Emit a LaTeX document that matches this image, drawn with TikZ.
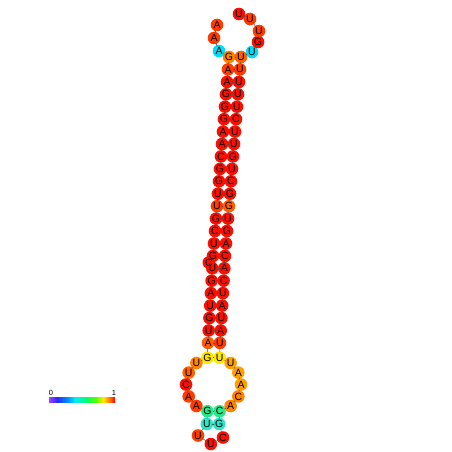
\documentclass[tikz,border=0pt]{standalone}
\usepackage{fontspec}
\setmainfont{Liberation Sans}
\pgfdeclarelayer{circ}
\pgfdeclarelayer{lns}
\pgfsetlayers{circ,lns,main}
\definecolor{cR}{RGB}{250,15,0}
\definecolor{cRO}{RGB}{255,60,0}
\definecolor{cO1}{RGB}{255,95,0}
\definecolor{cO}{RGB}{255,130,0}
\definecolor{cO2}{RGB}{255,160,0}
\definecolor{cY}{RGB}{255,230,0}
\definecolor{cCY}{RGB}{0,220,245}
\definecolor{cGR}{RGB}{40,232,140}
\definecolor{cTQ}{RGB}{40,230,200}
\definecolor{cLine}{RGB}{80,80,80}
\tikzset{
  nuc/.style={circle, inner sep=0pt, minimum size=8.5pt, text=black,
    font=\fontsize{10.5}{10.5}\selectfont},
  bb/.style={draw=cLine, line width=0.5pt},
  bp/.style={draw=cLine, line width=0.5pt},
  lbl/.style={inner sep=0pt, font=\fontsize{7.5}{7.5}\selectfont}
}
\newcommand\nt[5]{%
  \begin{pgfonlayer}{circ}\fill[#5] (#2,#3) circle (6.3pt);\end{pgfonlayer}%
  \node[nuc] (#1) at (#2,#3) {#4};}
\begin{document}
\begin{tikzpicture}[x=1pt,y=-1pt]
\begin{pgfonlayer}{circ}
\fill[white] (0,0) rectangle (452,452);
\end{pgfonlayer}
\useasboundingbox (0,0) rectangle (452,452);
% top loop (5' side)
\nt{n1}{217}{25}{A}{cRO}
\nt{n2}{214}{38}{A}{cRO}
\nt{n3}{219}{51}{A}{cCY}
% left strand
\nt{n4}{229}{57.0}{G}{cO}
\nt{n5}{228}{69.4}{A}{cRO}
\nt{n6}{227}{81.9}{A}{cR}
\nt{n7}{226}{94.3}{G}{cR}
\nt{n8}{225}{106.7}{G}{cR}
\nt{n9}{224}{119.2}{G}{cR}
\nt{n10}{223}{131.6}{A}{cR}
\nt{n11}{222}{144.0}{A}{cR}
\nt{n12}{221}{156.4}{C}{cR}
\nt{n13}{220}{168.9}{G}{cR}
\nt{n14}{219}{181.3}{G}{cR}
\nt{n15}{218}{193.7}{U}{cR}
\nt{n16}{217}{206.2}{U}{cRO}
\nt{n17}{216}{218.6}{G}{cR}
\nt{n18}{215}{231.0}{C}{cR}
\nt{n19}{214}{243.5}{U}{cR}
\nt{n20}{213}{255.9}{G}{cR}
\nt{n21}{208.8}{262.5}{C}{cR}
\nt{n22}{212.3}{268.3}{U}{cR}
\nt{n23}{211.6}{280.7}{G}{cR}
\nt{n24}{210.9}{293.2}{A}{cR}
\nt{n25}{210.2}{305.6}{U}{cR}
\nt{n26}{209.4}{318.0}{G}{cR}
\nt{n27}{208.7}{330.5}{U}{cR}
\nt{n28}{208.0}{342.9}{A}{cO1}
% interior loop
\nt{n29}{207.4}{357.7}{G}{cY}
\nt{n30}{196.4}{363.0}{U}{cO}
\nt{n31}{188.7}{372.6}{U}{cO1}
\nt{n32}{186.0}{384.5}{C}{cR}
\nt{n33}{188.7}{396.4}{A}{cRO}
\nt{n34}{196.4}{406.0}{A}{cRO}
\nt{n35}{207.4}{411.3}{G}{cGR}
\nt{n36}{206.8}{424.0}{U}{cTQ}
\nt{n37}{198.0}{435.5}{U}{cRO}
\nt{n38}{210.8}{444.0}{U}{cR}
\nt{n39}{223.0}{437.5}{C}{cR}
\nt{n40}{219.2}{424.0}{G}{cTQ}
\nt{n41}{219.6}{411.3}{C}{cGR}
\nt{n42}{230.6}{406.0}{A}{cO}
\nt{n43}{238.3}{396.4}{C}{cO}
\nt{n44}{241.0}{384.5}{A}{cO2}
\nt{n45}{238.3}{372.6}{A}{cO2}
\nt{n46}{230.6}{363.0}{U}{cO2}
\nt{n47}{219.6}{357.7}{U}{cY}
% right strand
\nt{n48}{220.0}{342.9}{U}{cRO}
\nt{n49}{220.7}{330.5}{A}{cR}
\nt{n50}{221.4}{318.0}{U}{cR}
\nt{n51}{222.2}{305.6}{A}{cR}
\nt{n52}{222.9}{293.2}{U}{cR}
\nt{n53}{223.6}{280.7}{C}{cR}
\nt{n54}{224.3}{268.3}{A}{cR}
\nt{n55}{225}{255.9}{C}{cR}
\nt{n56}{226}{243.5}{A}{cR}
\nt{n57}{227}{231.0}{G}{cR}
\nt{n58}{228}{218.6}{U}{cR}
\nt{n59}{229}{206.2}{G}{cO1}
\nt{n60}{230}{193.7}{G}{cR}
\nt{n61}{231}{181.3}{C}{cR}
\nt{n62}{232}{168.9}{U}{cR}
\nt{n63}{233}{156.4}{G}{cR}
\nt{n64}{234}{144.0}{U}{cR}
\nt{n65}{235}{131.6}{U}{cR}
\nt{n66}{236}{119.2}{C}{cR}
\nt{n67}{237}{106.7}{U}{cR}
\nt{n68}{238}{94.3}{U}{cR}
\nt{n69}{239}{81.9}{U}{cR}
\nt{n70}{240}{69.4}{U}{cRO}
\nt{n71}{241}{57.0}{U}{cO1}
% top loop (3' side)
\nt{n72}{252}{52}{U}{cCY}
\nt{n73}{258}{42}{G}{cR}
\nt{n74}{259}{31}{U}{cRO}
\nt{n75}{250}{19}{U}{cRO}
\nt{n76}{239}{14}{U}{cR}
\begin{pgfonlayer}{lns}
\foreach \a [evaluate=\a as \b using int(\a+1)] in {1,...,75}
  \draw[bb] (n\a) -- (n\b);
\foreach \a/\b in {4/71,5/70,6/69,7/68,8/67,9/66,10/65,11/64,12/63,13/62,14/61,
  15/60,16/59,17/58,18/57,19/56,20/55,22/54,23/53,24/52,25/51,26/50,27/49,28/48,
  29/47,35/41,36/40}
  \draw[bp] (n\a) -- (n\b);
\end{pgfonlayer}
% colour bar
\shade[left color={rgb,255:red,165;green,60;blue,255}, right color={rgb,255:red,40;green,40;blue,255}] (49,397) rectangle (57.2,402);
\shade[left color={rgb,255:red,40;green,40;blue,255}, right color={rgb,255:red,0;green,130;blue,255}] (57,397) rectangle (66.2,402);
\shade[left color={rgb,255:red,0;green,130;blue,255}, right color={rgb,255:red,0;green,235;blue,255}] (66,397) rectangle (75.2,402);
\shade[left color={rgb,255:red,0;green,235;blue,255}, right color={rgb,255:red,0;green,255;blue,110}] (75,397) rectangle (86.2,402);
\shade[left color={rgb,255:red,0;green,255;blue,110}, right color={rgb,255:red,90;green,255;blue,0}] (86,397) rectangle (96.2,402);
\shade[left color={rgb,255:red,90;green,255;blue,0}, right color={rgb,255:red,255;green,235;blue,0}] (96,397) rectangle (103.2,402);
\shade[left color={rgb,255:red,255;green,235;blue,0}, right color={rgb,255:red,255;green,130;blue,0}] (103,397) rectangle (109.2,402);
\shade[left color={rgb,255:red,255;green,130;blue,0}, right color={rgb,255:red,255;green,0;blue,0}] (109,397) rectangle (115,402);
\coordinate (bar) at (82,399.5);
\node[lbl] (lbl0) at (51,392.5) {0};
\node[lbl] (lbl1) at (114,392.5) {1};
\end{tikzpicture}
\end{document}
